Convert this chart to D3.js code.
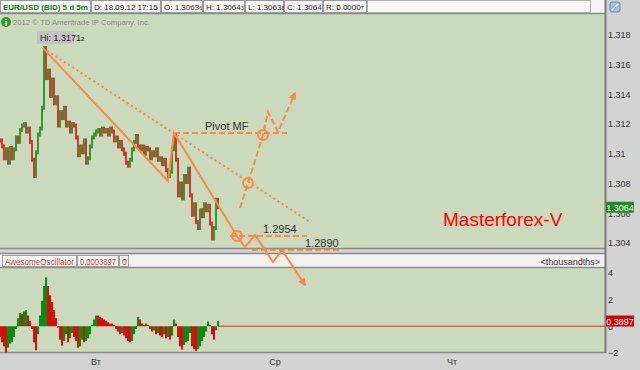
<!DOCTYPE html>
<html>
<head>
<meta charset="utf-8">
<script src="https://cdn.jsdelivr.net/npm/d3@7"></script>
<style>
  body { margin: 0; background: #fff; }
  svg { display: block; font-family: "Liberation Sans", Arial, sans-serif; }
</style>
</head>
<body>
<svg id="chart" width="640" height="370"></svg>
<script>
// 5-minute closes, EUR/USD (BID)
const closes = [
  1.3109, 1.3105, 1.3097, 1.3103, 1.3094, 1.3104, 1.3097, 1.3103, 1.3111, 1.3108,
  1.3116, 1.3119, 1.3120, 1.3115, 1.3117, 1.3108, 1.3096, 1.3085, 1.3101, 1.3113,
  1.3117, 1.3131, 1.31712, 1.3151, 1.3156, 1.3139, 1.3150, 1.3134, 1.3138, 1.3119,
  1.3128, 1.3124, 1.3131, 1.3119, 1.3121, 1.3115, 1.3120, 1.3119, 1.3111, 1.3099,
  1.3105, 1.3101, 1.3109, 1.3094, 1.3097, 1.3105, 1.3111, 1.3113, 1.3115, 1.3116,
  1.3113, 1.3117, 1.3115, 1.3116, 1.3113, 1.3117, 1.3115, 1.3109, 1.3111, 1.3105,
  1.3108, 1.3103, 1.3100, 1.3094, 1.3092, 1.3096, 1.3103, 1.3108, 1.3112, 1.3105,
  1.3103, 1.3105, 1.3100, 1.3104, 1.3103, 1.3097, 1.3101, 1.3099, 1.3103, 1.3096,
  1.3097, 1.3093, 1.3096, 1.3089, 1.3085, 1.3088, 1.3103, 1.3112, 1.3096, 1.3072,
  1.3080, 1.3070, 1.3085, 1.3081, 1.3090, 1.3072, 1.3059, 1.3066, 1.3054, 1.3050,
  1.3062, 1.3058, 1.3066, 1.3062, 1.3065, 1.3053, 1.3043, 1.3050, 1.3069, 1.3064
];

// Awesome Oscillator, thousandths
const aoValues = [
  -0.8, -1.2, -1.5, -1.95, -1.6, -1.3, -1.2, -0.8, -0.2, 0.6,
  1.0, 0.9, 1.1, 1.2, 0.8, 0.4, -0.2, -1.2, -1.8, -0.6,
  0.8, 1.9, 3.0, 3.65, 3.0, 2.3, 1.8, 1.2, 0.6, -0.1,
  -1.0, -1.45, -1.1, -0.6, -1.2, -0.9, -0.5, -0.8, -1.1, -1.6,
  -1.5, -1.0, -1.2, -1.1, -0.9, -0.6, 0.1, 0.5, 0.8, 0.8,
  0.7, 0.6, 0.5, 0.4, 0.3, 0.2, 0.2, 0.1, -0.2, -0.4,
  -0.6, -0.5, -0.7, -0.9, -1.1, -1.2, -1.1, -0.6, -0.2, 0.7,
  0.5, 0.2, 0.1, 0.2, 0.1, -0.2, -0.4, -0.3, -0.6, -0.5,
  -0.7, -0.8, -0.6, -0.9, -0.8, -1.0, -0.7, 0.5, 0.2, -0.8,
  -1.5, -1.75, -1.4, -1.2, -1.1, -0.5, -1.5, -1.7, -1.85, -1.7,
  -1.5, -1.1, -0.8, -0.4, 0.35, 0.1, -0.6, -1.0, -0.3, 0.3897
];

const priceTicks = [1.318, 1.316, 1.314, 1.312, 1.31, 1.308, 1.306, 1.304];
const aoTicks = [4, 2, 0, -2];
const dayTicks = [48, 137.5, 226];
const dayLabels = ['Вт', 'Ср', 'Чт'];
const lastClose = 1.3064;
const lastAO = 0.3897;

// hand-drawn analysis, [bar index, price]
const trendSolid = [[21.5, 1.31712], [84, 1.30817], [87, 1.3114], [118.5, 1.30446]];
const zigzagDown = [[118.5, 1.30446], [122.5, 1.30372], [127.5, 1.30453], [136.5, 1.30271], [141, 1.30352], [152.5, 1.30117]];
const dottedTrend = [[21.5, 1.31712], [155, 1.30541]];
const pivotLevel = [[87, 1.3114], [143.5, 1.3114]];
const level2954 = [[115, 1.30446], [153.5, 1.30446]];
const level2890 = [[126, 1.30352], [170, 1.30352]];
const breakoutPath = [[120, 1.30635], [124, 1.30803], [131.5, 1.31127], [134, 1.31282], [139, 1.31147], [147.5, 1.31409]];
const circles = [[118.5, 1.30446], [124, 1.30803], [131.5, 1.31127]];

const svg = d3.select('#chart');
const plotRight = 605;

const x = d3.scaleLinear().domain([0, 302.5]).range([0, plotRight]);
const yPrice = d3.scaleLinear().domain([1.318, 1.304]).range([35, 242.9]);
const yAO = d3.scaleLinear().domain([4, -2]).range([272.7, 353]);

const green = '#0d8a12';
const red = '#d40f0f';
const orange = '#fb8a44';

// frame
svg.append('rect').attr('width', 640).attr('height', 370).attr('fill', '#d3d3d3');
svg.append('rect').attr('x', 0).attr('y', 0).attr('width', plotRight).attr('height', 14).attr('fill', '#f3f3f3');
svg.append('rect').attr('x', 0).attr('y', 14).attr('width', plotRight).attr('height', 234).attr('fill', '#cbd9bd');
svg.append('rect').attr('x', 0).attr('y', 254).attr('width', plotRight).attr('height', 14).attr('fill', '#f1f1f1');
svg.append('rect').attr('x', 0).attr('y', 268).attr('width', plotRight).attr('height', 84).attr('fill', '#cbd9bd');

const frameLines = [[0, 13.5, plotRight, 13.5], [0, 248.5, plotRight, 248.5], [0, 253.5, plotRight, 253.5],
  [0, 267.5, plotRight, 267.5], [0, 352.5, plotRight, 352.5]];
svg.append('g').selectAll('line').data(frameLines).join('line')
  .attr('x1', d => d[0]).attr('y1', d => d[1]).attr('x2', d => d[2]).attr('y2', d => d[3])
  .attr('stroke', '#8a8a8a').attr('stroke-width', 1.5);
svg.append('line').attr('x1', plotRight + 0.5).attr('x2', plotRight + 0.5).attr('y1', 0).attr('y2', 353)
  .attr('stroke', '#7a7a7a').attr('stroke-width', 2);

// header boxes
const header = svg.append('g').attr('font-size', 8);
const headerItems = [
  { x0: 0, x1: 91, main: 'EUR/USD (BID) 5 d 5m', small: '', color: green, bold: true },
  { x0: 91, x1: 161, main: 'D: 18.09.12 17:15', small: '', color: '#333' },
  { x0: 161, x1: 203, main: 'O: 1.3063', small: '6', color: '#333' },
  { x0: 203, x1: 245, main: 'H: 1.3064', small: '3', color: '#333' },
  { x0: 245, x1: 284, main: 'L: 1.3063', small: '8', color: '#333' },
  { x0: 284, x1: 323, main: 'C: 1.3064', small: '', color: '#333' },
  { x0: 323, x1: 367, main: 'R: 0.0000', small: '7', color: '#333' }
];
headerItems.forEach(d => {
  header.append('rect').attr('x', d.x0 + 0.5).attr('y', 0.5).attr('width', d.x1 - d.x0 - 1).attr('height', 12)
    .attr('fill', '#f7f7f7').attr('stroke', '#9a9a9a');
  const t = header.append('text').attr('x', d.x0 + 3).attr('y', 9.5).attr('fill', d.color)
    .attr('font-weight', d.bold ? 'bold' : 'normal');
  t.append('tspan').text(d.main);
  if (d.small) t.append('tspan').attr('font-size', 5.5).text(d.small);
});
header.append('rect').attr('x', 367.5).attr('y', 0.5).attr('width', 223).attr('height', 12)
  .attr('fill', '#f7f7f7').attr('stroke', '#b0b0b0');

// top-right icon
svg.append('rect').attr('x', 610).attr('y', 2).attr('width', 10).attr('height', 10).attr('rx', 2)
  .attr('fill', '#9fc0dc').attr('stroke', '#6f8fb0');
svg.append('path').attr('d', 'M612,10 L618,4').attr('stroke', '#fff').attr('stroke-width', 1.5);

// copyright
svg.append('circle').attr('cx', 6).attr('cy', 22).attr('r', 5).attr('fill', '#2d9a2d');
svg.append('text').attr('x', 6).attr('y', 25.5).attr('text-anchor', 'middle').attr('font-size', 9)
  .attr('font-weight', 'bold').attr('fill', '#fff').text('i');
svg.append('text').attr('x', 13).attr('y', 25).attr('font-size', 8).attr('fill', '#8c8c8c')
  .attr('textLength', 137).attr('lengthAdjust', 'spacingAndGlyphs')
  .text('2012 © TD Ameritrade IP Company, Inc.');

// price bars
svg.append('g').selectAll('rect').data(closes).join('rect')
  .attr('x', (d, i) => x(i) - 0.8)
  .attr('width', 1.6)
  .attr('y', (d, i) => yPrice(Math.max(d, i ? closes[i - 1] : d)) - 2)
  .attr('height', (d, i) => {
    const p = i ? closes[i - 1] : d;
    return yPrice(Math.min(d, p)) - yPrice(Math.max(d, p)) + 4;
  })
  .attr('fill', (d, i) => (i && d >= closes[i - 1]) ? green : red);

// Hi label
svg.append('rect').attr('x', 37).attr('y', 31).attr('width', 37).attr('height', 13).attr('rx', 1)
  .attr('fill', '#c3c3c3');
const hiText = svg.append('text').attr('x', 40).attr('y', 41).attr('font-size', 9).attr('fill', '#222');
hiText.append('tspan').text('Hi: 1.3171');
hiText.append('tspan').attr('font-size', 6).text('2');

// right price axis
const priceAxis = svg.append('g').attr('transform', `translate(${plotRight + 1},0)`)
  .call(d3.axisRight(yPrice).tickValues(priceTicks).tickSize(0).tickPadding(2)
    .tickFormat(d => String(+d.toFixed(3))));
priceAxis.select('.domain').remove();
priceAxis.selectAll('text').attr('font-size', 9).attr('fill', '#333').attr('font-family', 'Liberation Sans, Arial');

svg.append('rect').attr('x', 606).attr('y', yPrice(lastClose) - 5.5).attr('width', 28).attr('height', 11)
  .attr('fill', '#1f8f1f');
svg.append('text').attr('x', 620).attr('y', yPrice(lastClose) + 3.5).attr('text-anchor', 'middle')
  .attr('font-size', 9).attr('fill', '#fff').text(lastClose.toFixed(4));

// oscillator header
const oscHeader = svg.append('g').attr('font-size', 9);
const oscItems = [
  { x0: 2, x1: 77, label: 'AwesomeOscillator' },
  { x0: 77, x1: 119, label: '0.0003897' },
  { x0: 119, x1: 129, label: '0' }
];
oscItems.forEach(d => {
  oscHeader.append('rect').attr('x', d.x0 + 0.5).attr('y', 255.5).attr('width', d.x1 - d.x0 - 1).attr('height', 11)
    .attr('fill', '#f8f8f8').attr('stroke', '#a0a0a0');
  oscHeader.append('text').attr('x', d.x0 + 3).attr('y', 264.5).attr('fill', '#d64040')
    .attr('textLength', d.label.length > 1 ? d.x1 - d.x0 - 6 : null)
    .attr('lengthAdjust', 'spacingAndGlyphs').text(d.label);
});
oscHeader.append('text').attr('x', 600).attr('y', 264.5).attr('text-anchor', 'end').attr('fill', '#333')
  .text('<thousandths>');

// AO histogram
svg.append('line').attr('x1', x(closes.length - 1)).attr('x2', plotRight).attr('y1', yAO(0)).attr('y2', yAO(0))
  .attr('stroke', '#f05a48').attr('stroke-width', 1.5);
svg.append('g').selectAll('rect').data(aoValues).join('rect')
  .attr('x', (d, i) => x(i) - 1)
  .attr('width', 2.05)
  .attr('y', d => Math.min(yAO(0), yAO(d)))
  .attr('height', d => Math.abs(yAO(d) - yAO(0)))
  .attr('fill', (d, i) => (i && d > aoValues[i - 1]) ? green : red);

// AO axis
const aoAxis = svg.append('g').attr('transform', `translate(${plotRight + 1},0)`)
  .call(d3.axisRight(yAO).tickValues(aoTicks).tickSize(0).tickPadding(2).tickFormat(d3.format('d')));
aoAxis.select('.domain').remove();
aoAxis.selectAll('text').attr('font-size', 9).attr('fill', '#333').attr('font-family', 'Liberation Sans, Arial');
svg.append('rect').attr('x', 606).attr('y', yAO(lastAO) - 5.5).attr('width', 28).attr('height', 11)
  .attr('fill', '#d00000');
svg.append('text').attr('x', 620).attr('y', yAO(lastAO) + 3.5).attr('text-anchor', 'middle')
  .attr('font-size', 9).attr('fill', '#fff').text(lastAO.toFixed(4));

// day axis
svg.append('g').selectAll('text').data(dayTicks).join('text')
  .attr('x', d => x(d)).attr('y', 365).attr('text-anchor', 'middle')
  .attr('font-size', 9).attr('fill', '#333')
  .text((d, i) => dayLabels[i]);

// analysis overlay
const defs = svg.append('defs');
defs.append('marker').attr('id', 'arrow').attr('viewBox', '0 0 10 10').attr('refX', 8).attr('refY', 5)
  .attr('markerWidth', 4).attr('markerHeight', 4).attr('orient', 'auto').attr('markerUnits', 'strokeWidth')
  .append('path').attr('d', 'M0,0 L10,5 L0,10 Z').attr('fill', orange);

const line = d3.line().x(d => x(d[0])).y(d => yPrice(d[1]));
const overlay = svg.append('g').attr('fill', 'none').attr('stroke', orange).attr('stroke-width', 2);

overlay.append('path').attr('d', line(trendSolid));
overlay.append('path').attr('d', line(zigzagDown)).attr('marker-end', 'url(#arrow)');
overlay.append('path').attr('d', line(dottedTrend)).attr('stroke-dasharray', '2,3');
[pivotLevel, level2954, level2890].forEach(l => {
  overlay.append('path').attr('d', line(l)).attr('stroke-dasharray', '6,3');
});
overlay.append('path').attr('d', line(breakoutPath)).attr('stroke-dasharray', '6,3').attr('marker-end', 'url(#arrow)');
overlay.selectAll('circle').data(circles).join('circle')
  .attr('cx', d => x(d[0])).attr('cy', d => yPrice(d[1])).attr('r', 5);

const notes = svg.append('g').attr('font-size', 11).attr('fill', '#333');
notes.append('text').attr('x', x(102.5)).attr('y', yPrice(pivotLevel[0][1]) - 3).text('Pivot MF');
notes.append('text').attr('x', x(131.5)).attr('y', yPrice(level2954[0][1]) - 3).text('1.2954');
notes.append('text').attr('x', x(152.5)).attr('y', yPrice(level2890[0][1]) - 3).text('1.2890');

svg.append('text').attr('x', 443).attr('y', 226).attr('font-size', 19).attr('fill', '#ff0000')
  .text('Masterforex-V');
</script>
</body>
</html>
